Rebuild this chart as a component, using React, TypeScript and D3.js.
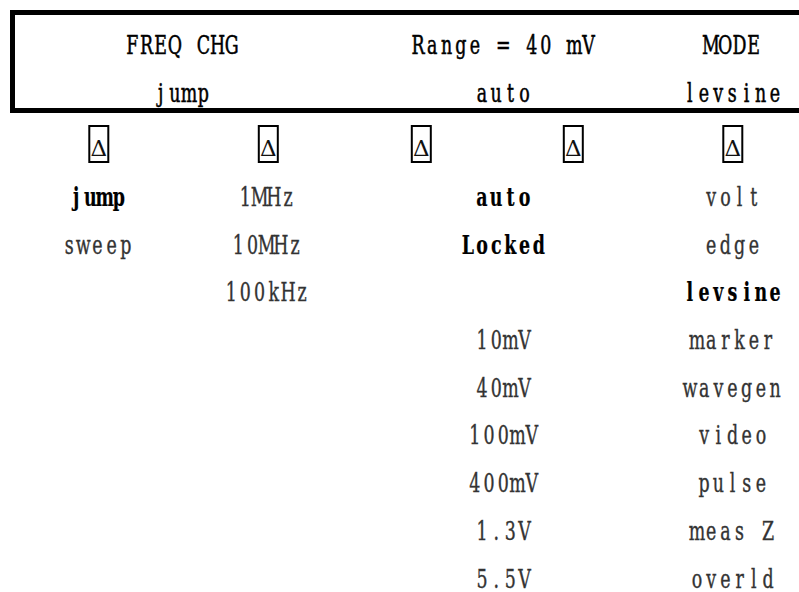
import React from "react";
import * as d3 from "d3";

// ---- data ----
const headerTop = ["FREQ CHG", "Range = 40 mV", "MODE"];
const headerBottom = ["jump", "auto", "levsine"];
const freqChgItems = ["jump", "sweep"];
const freqItems = ["1MHz", "10MHz", "100kHz"];
const rangeItems = ["auto", "Locked", "", "10mV", "40mV", "100mV", "400mV", "1.3V", "5.5V"];
const modeItems = ["volt", "edge", "levsine", "marker", "wavegen", "video", "pulse", "meas Z", "overld"];
const selectedItems = [["jump"], [], ["auto", "Locked"], ["levsine"]];
const markerCount = 5;

// ---- layout ----
const W = 799;
const H = 592;
const FONT = "'DejaVu Serif Condensed', 'DejaVu Serif', serif";
const PITCH = 14.2;
const SX = 0.76;
const FS = 25.5;

const columns = [freqChgItems, freqItems, rangeItems, modeItems];
const colCenters = [97.5, 266.7, 503.3, 732.5];
const headerCenters = [182, 503.3, 732.3];
const markerCenters = [98.8, 268.3, 421.3, 573.3, 732.8];

const rowY = d3.scaleLinear().domain([0, 8]).range([206, 587.5]);

function MonoText({ text, cx, y, bold, color, sw }: { text: string; cx: number; y: number; bold?: boolean; color?: string; sw?: number }) {
  const n = text.length;
  const xs = d3.range(n).map((i) => ((i - (n - 1) / 2) * PITCH) / SX);
  const c = color ?? "#000";
  return (
    <text
      transform={`translate(${cx},${y}) scale(${SX},1)`}
      x={xs.join(" ")}
      y={0}
      textAnchor="middle"
      fontFamily={FONT}
      fontSize={FS}
      fontWeight={bold ? "bold" : "normal"}
      fill={c}
      stroke={c}
      strokeWidth={sw ?? 0.35}
      style={{ whiteSpace: "pre" }}
    >
      {text}
    </text>
  );
}

export default function App() {
  return (
    <svg
      width={W}
      height={H}
      viewBox={`0 0 ${W} ${H}`}
      style={{ position: "absolute", left: 0, top: 0, background: "#fff" }}
    >
      <rect x={0} y={0} width={W} height={H} fill="#fff" />
      {/* header frame */}
      <path d={`M ${W + 10} 12.5 H 12.5 V 110.5 H ${W + 10}`} fill="none" stroke="#000" strokeWidth={5} />
      {headerTop.map((t, i) => (
        <MonoText key={"ht" + i} text={t} cx={headerCenters[i]} y={53.5} color="#000" sw={0.5} />
      ))}
      {headerBottom.map((t, i) => (
        <MonoText key={"hb" + i} text={t} cx={headerCenters[i]} y={101.7} color="#000" sw={0.5} />
      ))}
      {/* markers */}
      {d3.range(markerCount).map((i) => (
        <g key={"m" + i} transform={`translate(${markerCenters[i]},0)`}>
          <rect x={-9.5} y={126} width={19} height={36} fill="none" stroke="#000" strokeWidth={2} />
          <text x={0} y={155.5} textAnchor="middle" fontFamily="'DejaVu Serif', serif" fontSize={23} fill="#111">
            Δ
          </text>
        </g>
      ))}
      {/* columns */}
      {columns.map((items, c) =>
        items.map((t, r) =>
          t ? (
            <MonoText
              key={`c${c}r${r}`}
              text={t}
              cx={colCenters[c]}
              y={rowY(r)}
              bold={selectedItems[c].includes(t)}
              color={selectedItems[c].includes(t) ? "#000" : "#333"}
              sw={selectedItems[c].includes(t) ? 0.2 : 0.35}
            />
          ) : null
        )
      )}
    </svg>
  );
}
